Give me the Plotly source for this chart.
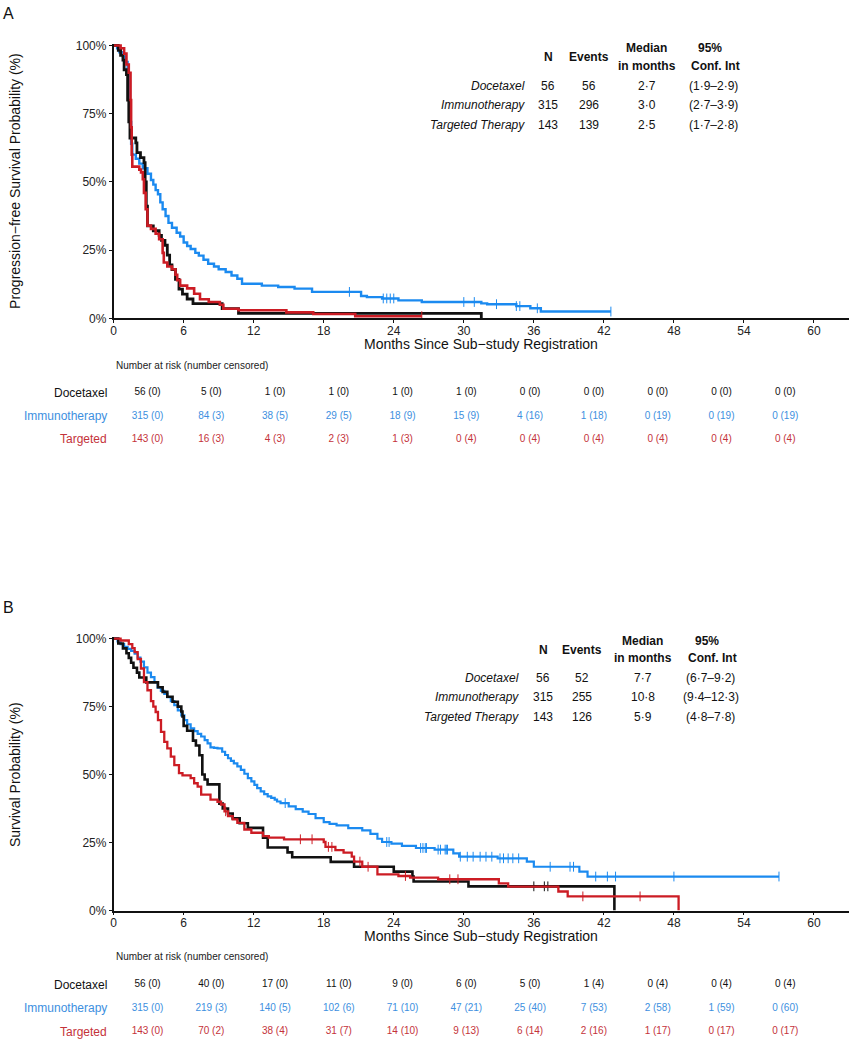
import numpy as np
import plotly.graph_objects as go

W, H = 853, 1050
FONT = "Arial, Liberation Sans, sans-serif"
BLACK = "#111111"
BLUE = "#1b8af0"
RED = "#cc1c24"
BLUE_TXT = "#3d8fe0"
RED_TXT = "#c4323a"

arms = ["Docetaxel", "Immunotherapy", "Targeted Therapy"]
risk_labels = ["Docetaxel", "Immunotherapy", "Targeted"]
month_ticks = [0, 6, 12, 18, 24, 30, 36, 42, 48, 54, 60]

# ---------- panel A : progression-free survival ----------
A_doc_t = [0, 0.4, 0.6, 0.8, 0.9, 1.1, 1.2, 1.3, 1.4, 1.9, 2.0, 2.3, 2.6, 2.7, 2.8, 2.9,
           3.4, 3.9, 4.1, 4.4, 4.6, 4.8, 5.0, 5.3, 5.6, 5.9, 6.3, 6.8, 9.3, 10.7, 31.5]
A_doc_s = [1.0, 0.982, 0.964, 0.946, 0.911, 0.893, 0.80, 0.72, 0.661, 0.643, 0.607, 0.589,
           0.571, 0.50, 0.411, 0.339, 0.321, 0.304, 0.286, 0.268, 0.232, 0.196, 0.179, 0.143,
           0.107, 0.089, 0.071, 0.054, 0.036, 0.018, 0.0]
A_doc_cens = []

A_imm_t = [0, 0.3, 0.5, 0.8, 1.0, 1.2, 1.3, 1.4, 1.5, 1.6, 1.9, 2.2, 2.5, 2.9, 3.2, 3.4,
           3.6, 3.8, 4.0, 4.2, 4.45, 4.7, 5.0, 5.4, 5.7, 6.0, 6.3, 6.6, 7.0, 7.3, 7.7, 8.1,
           8.6, 9.0, 9.6, 10.1, 10.6, 11.0, 12.7, 14.1, 15.5, 17.0, 21.2, 21.7, 23.0, 24.4,
           26.4, 31.5, 32.0, 34.5, 35.7, 36.6]
A_imm_s = [1.0, 0.99, 0.975, 0.96, 0.94, 0.91, 0.87, 0.72, 0.64, 0.60, 0.585, 0.567, 0.55,
           0.53, 0.507, 0.49, 0.47, 0.455, 0.425, 0.40, 0.375, 0.35, 0.332, 0.314, 0.30,
           0.278, 0.265, 0.254, 0.24, 0.23, 0.215, 0.20, 0.19, 0.18, 0.17, 0.157, 0.145,
           0.127, 0.12, 0.115, 0.109, 0.097, 0.082, 0.078, 0.073, 0.066, 0.060, 0.055,
           0.052, 0.045, 0.037, 0.025]
A_imm_end = 42.6
A_imm_cens = [20.2, 23.1, 23.4, 23.7, 24.0, 30.0, 30.9, 32.8, 34.5, 34.8, 36.3, 42.6]

A_tar_t = [0, 0.6, 0.9, 1.1, 1.3, 1.45, 1.5, 1.55, 1.6, 2.2, 2.35, 2.5, 2.6, 2.75, 2.9, 3.2,
           3.6, 3.9, 4.2, 4.3, 4.6, 5.0, 5.3, 5.45, 5.7, 6.3, 6.9, 7.4, 8.15, 9.1, 9.4,
           10.7, 14.8, 17.1, 20.7]
A_tar_s = [1.0, 0.99, 0.97, 0.93, 0.90, 0.80, 0.70, 0.60, 0.556, 0.545, 0.535, 0.51, 0.46,
           0.40, 0.34, 0.328, 0.31, 0.29, 0.24, 0.205, 0.19, 0.18, 0.16, 0.14, 0.12, 0.11,
           0.09, 0.07, 0.06, 0.05, 0.035, 0.03, 0.022, 0.016, 0.008]
A_tar_end = 26.4
A_tar_cens = [26.4]

A_n = [56, 315, 143]
A_events = [56, 296, 139]
A_median = ["2·7", "3·0", "2·5"]
A_ci = ["(1·9–2·9)", "(2·7–3·9)", "(1·7–2·8)"]

A_risk = [
    ["56 (0)", "5 (0)", "1 (0)", "1 (0)", "1 (0)", "1 (0)", "0 (0)", "0 (0)", "0 (0)", "0 (0)", "0 (0)"],
    ["315 (0)", "84 (3)", "38 (5)", "29 (5)", "18 (9)", "15 (9)", "4 (16)", "1 (18)", "0 (19)", "0 (19)", "0 (19)"],
    ["143 (0)", "16 (3)", "4 (3)", "2 (3)", "1 (3)", "0 (4)", "0 (4)", "0 (4)", "0 (4)", "0 (4)", "0 (4)"],
]

# ---------- panel B : overall survival ----------
B_doc_t = [0, 0.4, 0.8, 1.1, 1.3, 1.5, 1.7, 2.0, 2.2, 2.8, 3.8, 4.2, 4.6, 5.05, 5.5, 5.8,
           5.9, 6.0, 6.3, 6.8, 7.05, 7.35, 7.6, 7.8, 8.05, 9.06, 9.35, 9.8, 10.2, 10.8, 11.5,
           12.8, 13.2, 14.9, 15.3, 18.6, 20.6, 24.0, 25.6, 25.7, 30.4, 42.9]
B_doc_s = [1.0, 0.982, 0.964, 0.946, 0.929, 0.911, 0.893, 0.875, 0.857, 0.839, 0.821, 0.804,
           0.786, 0.768, 0.75, 0.732, 0.714, 0.679, 0.661, 0.625, 0.607, 0.571, 0.50, 0.482,
           0.464, 0.393, 0.375, 0.357, 0.339, 0.321, 0.304, 0.268, 0.232, 0.214, 0.196, 0.179,
           0.161, 0.143, 0.125, 0.107, 0.089, 0.0]
B_doc_cens = [36.0, 36.9, 37.2]

B_imm_t = [0, 0.34, 0.6, 0.9, 1.2, 1.5, 1.8, 2.06, 2.3, 2.6, 2.9, 3.2, 3.5, 3.77, 4.05, 4.34,
           4.6, 4.9, 5.2, 5.5, 5.8, 6.06, 6.3, 6.6, 6.9, 7.2, 7.5, 7.8, 8.05, 8.3, 8.6, 8.9,
           9.3, 9.55, 9.8, 10.05, 10.3, 10.6, 10.9, 11.2, 11.5, 11.8, 12.06, 12.3, 12.6, 12.9,
           13.2, 13.5, 13.8, 14.0, 14.3, 15.0, 15.6, 16.2, 16.7, 17.3, 18.0, 18.5, 19.1, 20.1,
           21.3, 22.0, 22.6, 23.0, 23.8, 24.7, 25.9, 27.5, 29.1, 29.6, 32.9, 35.4, 36.0, 39.9,
           40.6]
B_imm_s = [1.0, 0.99, 0.98, 0.97, 0.962, 0.955, 0.945, 0.93, 0.915, 0.894, 0.875, 0.858,
           0.84, 0.82, 0.808, 0.797, 0.785, 0.77, 0.755, 0.736, 0.718, 0.70, 0.685, 0.67,
           0.66, 0.65, 0.64, 0.627, 0.615, 0.60, 0.598, 0.596, 0.584, 0.572, 0.56, 0.55,
           0.541, 0.53, 0.517, 0.503, 0.487, 0.475, 0.462, 0.45, 0.438, 0.428, 0.42, 0.414,
           0.408, 0.401, 0.395, 0.383, 0.373, 0.364, 0.355, 0.34, 0.325, 0.319, 0.313, 0.303,
           0.295, 0.282, 0.264, 0.252, 0.246, 0.238, 0.23, 0.224, 0.21, 0.198, 0.192, 0.18,
           0.161, 0.143, 0.125]
B_imm_end = 57.0
B_imm_cens = [14.7, 23.4, 23.6, 26.3, 26.5, 26.7, 26.8, 27.8, 28.0, 28.4, 28.5, 28.6, 29.7,
              30.3, 30.8, 31.4, 31.9, 32.4, 33.1, 33.4, 33.8, 34.2, 34.7, 37.4, 39.1, 39.4,
              41.3, 42.3, 43.0, 48.0, 57.0]

B_tar_t = [0, 0.6, 1.3, 1.6, 1.8, 2.06, 2.34, 2.6, 2.9, 3.2, 3.4, 3.6, 3.8, 4.06, 4.34, 4.6,
           4.9, 5.2, 5.6, 5.9, 6.6, 6.9, 7.2, 7.5, 8.3, 8.9, 9.2, 9.5, 9.8, 10.2, 10.6, 11.2,
           11.8, 12.8, 13.3, 14.6, 18.0, 18.15, 19.0, 19.7, 20.4, 20.6, 21.3, 22.6, 24.4,
           25.4, 27.8, 33.0, 33.8, 38.1, 38.9, 48.4]
B_tar_s = [1.0, 0.993, 0.98, 0.965, 0.95, 0.925, 0.89, 0.84, 0.81, 0.77, 0.75, 0.73, 0.70,
           0.657, 0.62, 0.596, 0.566, 0.535, 0.505, 0.497, 0.487, 0.468, 0.456, 0.426, 0.408,
           0.40, 0.39, 0.365, 0.347, 0.335, 0.322, 0.298, 0.286, 0.274, 0.268, 0.262, 0.252,
           0.234, 0.222, 0.213, 0.198, 0.18, 0.161, 0.133, 0.127, 0.121, 0.115, 0.10, 0.088,
           0.07, 0.052, 0.0]
B_tar_cens = [9.6, 16.0, 17.0, 18.4, 18.7, 21.1, 21.8, 25.0, 28.8, 29.5, 40.2, 45.1]

B_n = [56, 315, 143]
B_events = [52, 255, 126]
B_median = ["7·7", "10·8", "5·9"]
B_ci = ["(6·7–9·2)", "(9·4–12·3)", "(4·8–7·8)"]

B_risk = [
    ["56 (0)", "40 (0)", "17 (0)", "11 (0)", "9 (0)", "6 (0)", "5 (0)", "1 (4)", "0 (4)", "0 (4)", "0 (4)"],
    ["315 (0)", "219 (3)", "140 (5)", "102 (6)", "71 (10)", "47 (21)", "25 (40)", "7 (53)", "2 (58)", "1 (59)", "0 (60)"],
    ["143 (0)", "70 (2)", "38 (4)", "31 (7)", "14 (10)", "9 (13)", "6 (14)", "2 (16)", "1 (17)", "0 (17)", "0 (17)"],
]


def px(x):
    return x / W


def py(y):
    return 1 - y / H


def step_at(t, s, c):
    i = np.searchsorted(np.array(t), c, side="right") - 1
    return s[max(i, 0)]


fig = go.Figure()


def add_curve(t, s, cens, color, width, xa, ya, end=None):
    xs = list(t)
    ys = list(s)
    if end is not None:
        xs.append(end)
        ys.append(s[-1])
    fig.add_trace(go.Scatter(x=xs, y=ys, mode="lines", line=dict(color=color, width=width, shape="hv"),
                             xaxis=xa, yaxis=ya, showlegend=False, hoverinfo="skip"))
    if cens:
        fig.add_trace(go.Scatter(x=cens, y=[step_at(xs, ys, c) for c in cens], mode="markers",
                                 marker=dict(symbol="line-ns", size=7, line=dict(color=color, width=1)),
                                 xaxis=xa, yaxis=ya, showlegend=False, hoverinfo="skip"))


# panel A curves
add_curve(A_imm_t, A_imm_s, A_imm_cens, BLUE, 2.4, "x", "y", A_imm_end)
add_curve(A_doc_t, A_doc_s, A_doc_cens, BLACK, 2.8, "x", "y")
add_curve(A_tar_t, A_tar_s, A_tar_cens, RED, 2.6, "x", "y", A_tar_end)

# panel B curves
add_curve(B_imm_t, B_imm_s, B_imm_cens, BLUE, 2.2, "x2", "y2", B_imm_end)
add_curve(B_doc_t, B_doc_s, B_doc_cens, BLACK, 2.6, "x2", "y2")
add_curve(B_tar_t, B_tar_s, B_tar_cens, RED, 2.3, "x2", "y2")

# risk tables as text traces on their own axes
row_colors = [BLACK, BLUE_TXT, RED_TXT]
for xa, ya, table in [("x3", "y3", A_risk), ("x4", "y4", B_risk)]:
    for r, vals in enumerate(table):
        fig.add_trace(go.Scatter(x=list(range(len(vals))), y=[r] * len(vals), text=vals, mode="text",
                                 textfont=dict(family=FONT, size=10, color=row_colors[r]),
                                 xaxis=xa, yaxis=ya, showlegend=False, hoverinfo="skip",
                                 cliponaxis=False))

ann = []


def txt(x, y, s, size=12, color=BLACK, xanchor="center", bold=False, italic=False, angle=0):
    if bold:
        s = "<b>" + s + "</b>"
    if italic:
        s = "<i>" + s + "</i>"
    ann.append(dict(x=px(x), y=py(y), xref="paper", yref="paper", text=s, showarrow=False,
                    xanchor=xanchor, yanchor="middle", textangle=angle,
                    font=dict(family=FONT, size=size, color=color)))


def summary_table(top, lab_x, cols, n, ev, med, ci):
    txt(cols[0], top + 9, "N", bold=True)
    txt(cols[1], top + 9, "Events", bold=True)
    txt(cols[2], top, "Median", bold=True)
    txt(cols[2], top + 18, "in months", bold=True)
    txt(cols[3] - 4, top, "95%", bold=True)
    txt(cols[3] + 2, top + 18, "Conf. Int", bold=True)
    for i in range(3):
        yy = top + 38 + 19.5 * i
        txt(lab_x, yy, arms[i], xanchor="right", italic=True)
        txt(cols[0], yy, str(n[i]))
        txt(cols[1], yy, str(ev[i]))
        txt(cols[2], yy, med[i])
        txt(cols[3], yy, ci[i])


summary_table(44, 526, [547, 588, 646, 713], A_n, A_events, A_median, A_ci)
summary_table(643, 520, [542, 581, 642, 710], B_n, B_events, B_median, B_ci)

txt(6, 9, "A", size=16, xanchor="center")
txt(6, 609, "B", size=16, xanchor="center")
txt(12, 178, "Progression−free Survival Probability (%)", size=14, angle=-90)
txt(12, 778, "Survival Probability (%)", size=14, angle=-90)
txt(480, 343, "Months Since Sub−study Registration", size=14)
txt(480, 942, "Months Since Sub−study Registration", size=14)
txt(111, 365, "Number at risk (number censored)", size=10, xanchor="left", color="#222")
txt(111, 963, "Number at risk (number censored)", size=10, xanchor="left", color="#222")
for base in (392, 991):
    for r in range(3):
        txt(106, base + 23.7 * r, risk_labels[r], size=12, xanchor="right", color=row_colors[r])

xdom = [px(111), px(849)]
xcommon = dict(domain=xdom, range=[0, 63], tickvals=month_ticks, showline=True, linecolor=BLACK,
               linewidth=1.5, ticks="outside", ticklen=3, tickcolor=BLACK, showgrid=False,
               zeroline=False, tickfont=dict(family=FONT, size=12, color="#222"),
               ticklabelstandoff=-3, fixedrange=True)
ycommon = dict(range=[0, 1.007], tickvals=[0, 0.25, 0.5, 0.75, 1.0],
               ticktext=["0%", "25%", "50%", "75%", "100%"], showline=True, linecolor=BLACK,
               linewidth=1.5, ticks="outside", ticklen=3, tickcolor=BLACK, showgrid=False,
               zeroline=False, tickfont=dict(family=FONT, size=12, color="#222"), fixedrange=True)
hidden = dict(visible=False, showgrid=False, zeroline=False, fixedrange=True)
col0 = -34 / 64
rx = [col0, col0 + (849 - 111) / 64]

fig.update_layout(
    width=W, height=H, margin=dict(l=0, r=0, t=0, b=0),
    paper_bgcolor="white", plot_bgcolor="white", showlegend=False,
    xaxis=dict(**xcommon, anchor="y"),
    yaxis=dict(**ycommon, domain=[py(317), py(39)], anchor="x"),
    xaxis2=dict(**xcommon, anchor="y2"),
    yaxis2=dict(**ycommon, domain=[py(916), py(639)], anchor="x2"),
    xaxis3=dict(**hidden, domain=xdom, range=rx, anchor="y3"),
    yaxis3=dict(**hidden, domain=[py(380 + 2.8 * 24), py(380)], range=[2.3, -0.5], anchor="x3"),
    xaxis4=dict(**hidden, domain=xdom, range=rx, anchor="y4"),
    yaxis4=dict(**hidden, domain=[py(979.2 + 2.8 * 23.6), py(979.2)], range=[2.3, -0.5], anchor="x4"),
    annotations=ann,
)

# the page's default body margin would push the figure 8px off its place
fig.write_html("out.html", config={"displayModeBar": False},
               post_script="document.body.style.margin='0px';")
